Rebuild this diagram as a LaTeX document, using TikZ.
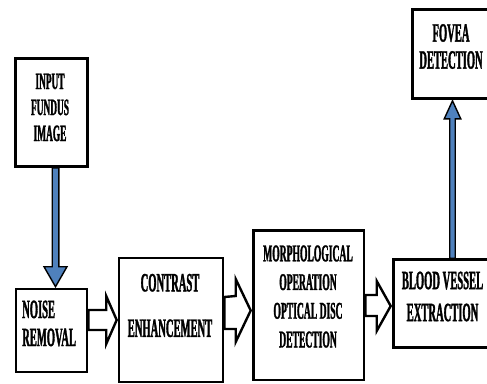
\documentclass[tikz,border=0pt]{standalone}
\usepackage{fontspec}
\setmainfont{Liberation Serif}[FakeStretch=0.40, BoldFeatures={FakeBold=1.2}]
\usetikzlibrary{calc}
\definecolor{arrowblue}{RGB}{79,129,189}
\tikzset{
  box/.style={draw=black, line width=2.6pt, fill=white, inner sep=0pt},
  lbl/.style={align=center, inner sep=0pt},
  hollow/.style={draw=black, line width=2.4pt, fill=white, line join=miter},
  bluearr/.style={draw=black, line width=1.4pt, fill=arrowblue, line join=miter},
}
\newcommand{\lblfont}[2]{\bfseries\fontsize{#1}{#2}\selectfont}
\begin{document}
\begin{tikzpicture}[x=1pt,y=-1pt]
\useasboundingbox (0,0) rectangle (487,383);
\clip (0,0) rectangle (487,383);
% boxes
\node[box, minimum width=72pt, minimum height=108pt] (input) at (51.5,112.5) {};
\node[box, minimum width=71pt, minimum height=83pt] (noise) at (51.5,330.5) {};
\node[box, minimum width=104pt, minimum height=124pt] (contrast) at (171,320) {};
\node[box, minimum width=110.5pt, minimum height=149.5pt] (morph) at (308.75,305.25) {};
\node[box, minimum width=101.5pt, minimum height=88pt] (blood) at (444.25,303.5) {};
\node[box, minimum width=82.5pt, minimum height=89pt] (fovea) at (453.75,54) {};
% texts
\node[lbl, font=\lblfont{23.4}{26}] (intext) at (50,107.5) {INPUT\\FUNDUS\\IMAGE};
\node[lbl, align=left, anchor=west, font=\lblfont{26.4}{28}] (noisetext) at (22,323.5) {NOISE\\REMOVAL};
\node[lbl, font=\lblfont{26.4}{45.5}] (contrasttext) at (170,305.5) {CONTRAST\\ENHANCEMENT};
\node[lbl, font=\lblfont{24}{28.7}] (morphtext) at (308,296.5) {MORPHOLOGICAL\\OPERATION\\OPTICAL DISC\\DETECTION};
\node[lbl, font=\lblfont{26.4}{32}] (bloodtext) at (442.5,296.5) {BLOOD VESSEL\\EXTRACTION};
\node[lbl, font=\lblfont{26.4}{27}] (foveatext) at (451,46.5) {FOVEA\\DETECTION};
% blue arrow input -> noise
\draw[bluearr] ($(input.south)+(0.7,0)$) -- ($(noise.north)+(0.7,-21)$) -- ($(noise.north)+(-7.5,-21)$)
  -- ($(noise.north)+(4,-1)$) -- ($(noise.north)+(15.5,-21)$) -- ($(noise.north)+(7.3,-21)$)
  -- ($(input.south)+(7.3,0)$) -- cycle;
% blue arrow blood -> fovea
\draw[bluearr] ($(blood.north)+(5.5,0)$) -- ($(fovea.south)+(-4,19)$) -- ($(fovea.south)+(-9.5,19)$)
  -- ($(fovea.south)+(-1.25,1)$) -- ($(fovea.south)+(7,19)$) -- ($(fovea.south)+(1.5,19)$)
  -- ($(blood.north)+(11,0)$) -- cycle;
% hollow arrow noise -> contrast
\draw[hollow] ($(noise.east)+(0,-20.5)$) -- ($(contrast.west)+(-11.5,-10)$) -- ($(contrast.west)+(-11.5,-24)$)
  -- ($(contrast.west)+(-1,0)$) -- ($(contrast.west)+(-11.5,24)$) -- ($(contrast.west)+(-11.5,10)$)
  -- ($(noise.east)+(0,-0.5)$) -- cycle;
% hollow arrow contrast -> morph
\draw[hollow] ($(contrast.east)+(0,-23)$) -- ($(morph.west)+(-16.5,-9.25)$) -- ($(morph.west)+(-16.5,-26.25)$)
  -- ($(morph.west)+(-1.5,5.25)$) -- ($(morph.west)+(-16.5,36.75)$) -- ($(morph.west)+(-16.5,23.75)$)
  -- ($(contrast.east)+(0,9)$) -- cycle;
% hollow arrow morph -> blood
\draw[hollow] ($(morph.east)+(0,-10.25)$) -- ($(blood.west)+(-15.5,-8.5)$) -- ($(blood.west)+(-15.5,-22.5)$)
  -- ($(blood.west)+(-1.5,2.5)$) -- ($(blood.west)+(-15.5,27.5)$) -- ($(blood.west)+(-15.5,12.5)$)
  -- ($(morph.east)+(0,10.75)$) -- cycle;
\end{tikzpicture}
\end{document}
